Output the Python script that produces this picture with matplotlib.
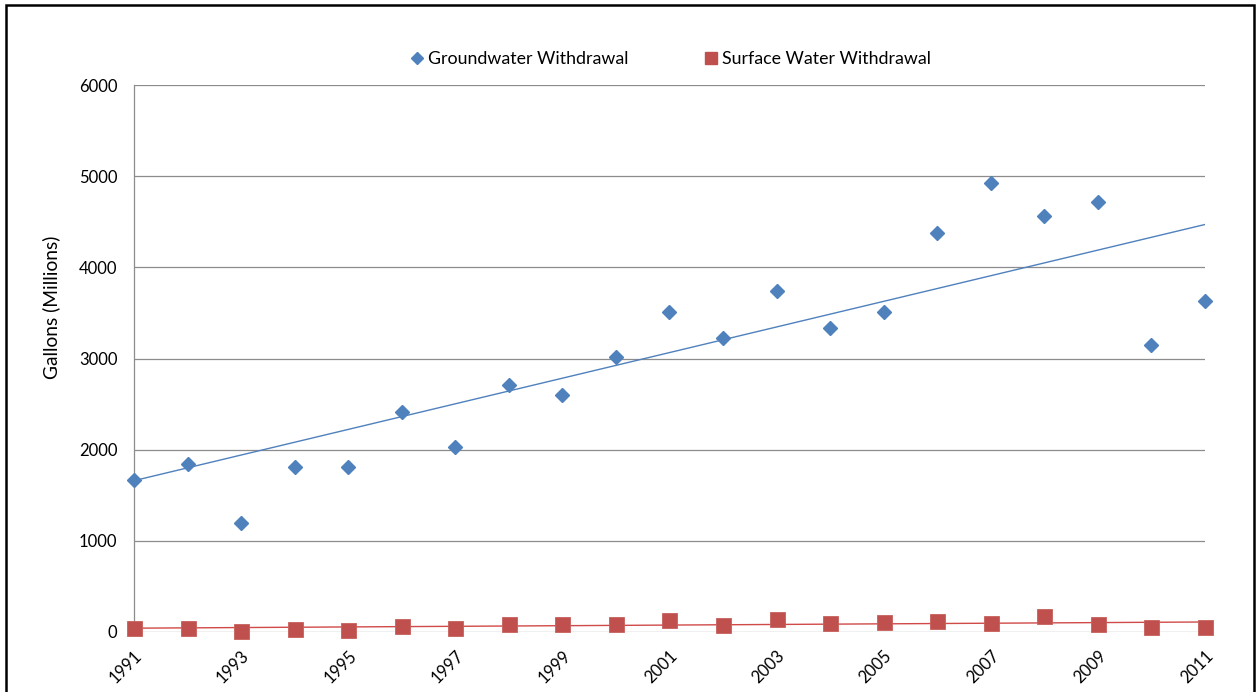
import numpy as np
import matplotlib
matplotlib.use('Agg')
import matplotlib.pyplot as plt
from matplotlib.lines import Line2D
from matplotlib.patches import Rectangle

BLUE = '#4F81BD'
RED = '#C0504D'
GRID = '#8C8C8C'

years = list(range(1991, 2012))
groundwater = [1665, 1839, 1192, 1810, 1810, 2410, 2033, 2713, 2603, 3011,
               3505, 3223, 3736, 3330, 3505, 4381, 4930, 4564, 4718, 3150, 3630]
surface = [40, 40, 10, 30, 20, 70, 40, 84, 84, 91,
           135, 73, 146, 102, 113, 124, 102, 172, 91, 55, 55]
# trend lines (values at 1991 and 2011)
trend_years = [1991, 2011]
groundwater_trend = [1660, 4470]
surface_trend = [42, 110]
y_ticks = [0, 1000, 2000, 3000, 4000, 5000, 6000]
x_ticks = list(range(1991, 2012, 2))

plt.rcParams['font.family'] = ['Lato', 'DejaVu Sans']

fig = plt.figure(figsize=(12.57, 6.92), dpi=100)
ax = fig.add_axes([134 / 1257, 1 - 632 / 692, (1205 - 134) / 1257, (632 - 85) / 692])

ax.plot(trend_years, groundwater_trend, color=BLUE, lw=1.0, zorder=3)
ax.plot(trend_years, surface_trend, color='#D04A48', lw=1.0, zorder=3)

ax.plot(years, groundwater, ls='none', marker='D', ms=7.6, color=BLUE,
        mec=BLUE, clip_on=False, zorder=4)
ax.plot(years, surface, ls='none', marker='s', ms=10.8, color=RED,
        mec='#C8605D', mew=0.6, clip_on=False, zorder=4)

ax.set_xlim(1991, 2011)
ax.set_ylim(0, 6000)
ax.set_xticks(x_ticks)
ax.set_xticklabels([str(t) for t in x_ticks], rotation=45, ha='right',
                   rotation_mode='anchor', fontsize=12)
ax.set_yticks(y_ticks)
ax.set_yticklabels([str(t) for t in y_ticks], fontsize=12)
ax.tick_params(axis='y', length=0, pad=12, colors='black')
ax.tick_params(axis='x', length=0, pad=11)
ax.grid(axis='y', color=GRID, lw=0.9)
ax.set_axisbelow(True)
for s in ('top', 'right', 'bottom'):
    ax.spines[s].set_visible(False)
ax.spines['left'].set_color(GRID)
ax.spines['left'].set_linewidth(0.9)

fig.text(51 / 1257, 1 - 307 / 692, 'Gallons (Millions)', rotation=90,
         ha='center', va='center', fontsize=13.8)

handles = [Line2D([], [], ls='none', marker='D', ms=6, color=BLUE),
           Line2D([], [], ls='none', marker='s', ms=9, color=RED)]
fig.legend(handles, ['Groundwater Withdrawal', 'Surface Water Withdrawal'],
           loc='center', bbox_to_anchor=(671 / 1257, 1 - 59 / 692), ncol=2,
           frameon=False, fontsize=12.8, handlelength=0.7, handletextpad=0.25,
           columnspacing=4.3)

# outer frame
fig.patches.append(Rectangle((6 / 1257, -0.05), 1248 / 1257, 1.05 - 5 / 692,
                             transform=fig.transFigure, fill=False,
                             edgecolor='black', lw=1.8))

fig.savefig('out.png', dpi=100)
